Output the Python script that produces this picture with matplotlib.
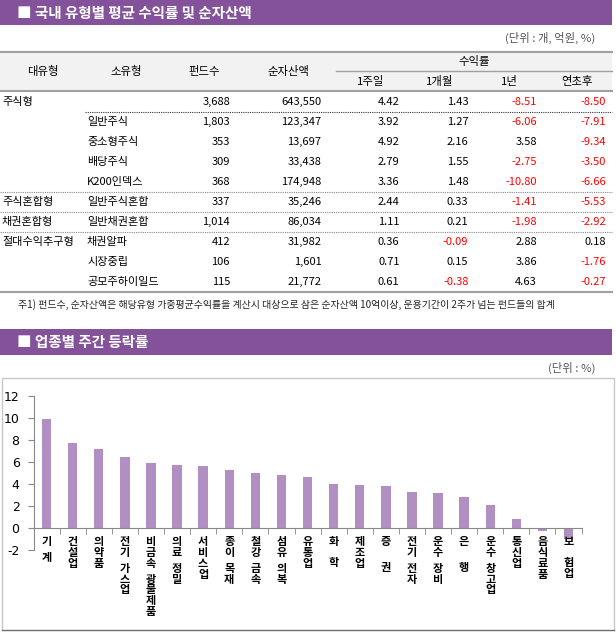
import matplotlib
matplotlib.use('Agg')
import matplotlib.pyplot as plt
from matplotlib.patches import Rectangle
import numpy as np

plt.rcParams['font.family'] = ['Noto Sans CJK KR', 'DejaVu Sans']
plt.rcParams['axes.unicode_minus'] = False

###############################################################################
# Data: fund table
major_types = ['주식형', '', '', '', '', '주식혼합형', '채권혼합형', '절대수익추구형', '', '']
sub_types = ['', '일반주식', '중소형주식', '배당주식', 'K200인덱스', '일반주식혼합',
             '일반채권혼합', '채권알파', '시장중립', '공모주하이일드']
fund_counts = [3688, 1803, 353, 309, 368, 337, 1014, 412, 106, 115]
net_assets = [643550, 123347, 13697, 33438, 174948, 35246, 86034, 31982, 1601, 21772]
ret_1w = [4.42, 3.92, 4.92, 2.79, 3.36, 2.44, 1.11, 0.36, 0.71, 0.61]
ret_1m = [1.43, 1.27, 2.16, 1.55, 1.48, 0.33, 0.21, -0.09, 0.15, -0.38]
ret_1y = [-8.51, -6.06, 3.58, -2.75, -10.80, -1.41, -1.98, 2.88, 3.86, 4.63]
ret_ytd = [-8.50, -7.91, -9.34, -3.50, -6.66, -5.53, -2.92, 0.18, -1.76, -0.27]

# Data: weekly sector change
sectors = ['기 계', '건설업', '의약품', '전기 가스업', '비금속 광물제품', '의료 정밀',
           '서비스업', '종이 목재', '철강 금속', '섬유 의복', '유통업', '화  학',
           '제조업', '증   권', '전기 전자', '운수 장비', '은   행', '운수 창고업',
           '통신업', '음식료품', '보  험업']
weekly_change = [9.9, 7.73, 7.18, 6.48, 5.9, 5.72, 5.63, 5.27, 5.0, 4.82, 4.64,
                 4.0, 3.97, 3.82, 3.33, 3.22, 2.88, 2.12, 0.85, -0.2, -1.0]
y_ticks = [-2, 0, 2, 4, 6, 8, 10, 12]

purple = '#83529a'
bar_color = '#b28fc3'
line_gray = '#a0a0a0'

###############################################################################
fig = plt.figure(figsize=(6.16, 6.33), dpi=100)
bg = fig.add_axes([0, 0, 1, 1])
bg.set_xlim(0, 616)
bg.set_ylim(633, 0)
bg.axis('off')

# Title bars
bg.add_patch(Rectangle((0, 0), 612, 25, color=purple, lw=0))
bg.text(17, 12.5, '■ 국내 유형별 평균 수익률 및 순자산액', color='white', fontsize=10.5,
        fontweight='bold', va='center', ha='left')
bg.text(595, 38, '(단위 : 개, 억원, %)', color='#555555', fontsize=8.2, va='center', ha='right')

bg.add_patch(Rectangle((0, 329), 612, 26, color=purple, lw=0))
bg.text(17, 342, '■ 업종별 주간 등락률', color='white', fontsize=10.5,
        fontweight='bold', va='center', ha='left')
bg.text(595, 368, '(단위 : %)', color='#555555', fontsize=8.2, va='center', ha='right')

# Table header
bg.add_patch(Rectangle((0, 52), 612, 39, color='#f2f2f2', lw=0))
bg.plot([0, 612], [52, 52], color=line_gray, lw=1.5)
bg.plot([336, 612], [71, 71], color=line_gray, lw=1)
bg.plot([0, 612], [91, 91], color=line_gray, lw=1.5)
hdr_fs = 8.2
for x, t in [(42.5, '대유형'), (126.5, '소유형'), (204, '펀드수'), (288, '순자산액')]:
    bg.text(x, 71, t, fontsize=hdr_fs, ha='center', va='center')
bg.text(474, 61, '수익률', fontsize=hdr_fs, ha='center', va='center')
for x, t in [(371, '1주일'), (440, '1개월'), (509, '1년'), (577, '연초후')]:
    bg.text(x, 81, t, fontsize=hdr_fs, ha='center', va='center')

# Table body
row_y0, row_h = 101.7, 20.07
col_right = [230, 321.4, 399.6, 468.4, 537, 606]
body_fs = 8
for i in range(len(sub_types)):
    y = row_y0 + i * row_h
    bg.text(2, y, major_types[i], fontsize=body_fs, ha='left', va='center')
    bg.text(87, y, sub_types[i], fontsize=body_fs, ha='left', va='center')
    bg.text(col_right[0], y, f'{fund_counts[i]:,}', fontsize=body_fs, ha='right', va='center')
    bg.text(col_right[1], y, f'{net_assets[i]:,}', fontsize=body_fs, ha='right', va='center')
    for c, series in enumerate([ret_1w, ret_1m, ret_1y, ret_ytd]):
        v = series[i]
        bg.text(col_right[c + 2], y, f'{v:.2f}', fontsize=body_fs, ha='right', va='center',
                color='#ff0000' if v < 0 else 'black')

bg.plot([84.5, 612], [111.5, 111.5], color='#333333', lw=0.8, ls=(0, (1, 1)))
for yy in [191.5, 211.5, 231.5]:
    bg.plot([0, 612], [yy, yy], color='#888888', lw=0.8, ls=(0, (1, 1)))
bg.plot([0, 612], [292, 292], color=line_gray, lw=1.5)
bg.text(17.7, 304.5, '주1) 펀드수, 순자산액은 해당유형 가중평균수익률을 계산시 대상으로 삼은 '
        '순자산액 10억이상, 운용기간이 2주가 넘는 펀드들의 합계',
        fontsize=7.15, ha='left', va='center', color='#222222')

# Chart frame
bg.plot([2, 2, 613.5, 613.5], [630, 377.5, 377.5, 630], color='#c8c8c8', lw=1)
bg.plot([2, 613.5], [630, 630], color='#707070', lw=1)

###############################################################################
# Bar chart
ax = fig.add_axes([33.5 / 616, 1 - 550.3 / 633, (581.6 - 33.5) / 616, (550.3 - 396.3) / 633])
ax.patch.set_alpha(0)
x = np.arange(len(sectors))
ax.bar(x, weekly_change, width=0.36, color=bar_color, zorder=2)
ax.set_xlim(-0.5, len(sectors) - 0.5)
ax.set_ylim(-2, 12)
ax.set_yticks(y_ticks)
ax.set_yticklabels([str(t) for t in y_ticks],
                   fontdict={'family': ['Liberation Sans Narrow', 'DejaVu Sans'], 'size': 9})
ax.spines['top'].set_visible(False)
ax.spines['right'].set_visible(False)
ax.spines['bottom'].set_position(('data', 0))
ax.spines['bottom'].set_color('#888888')
ax.spines['left'].set_color('#888888')
ax.tick_params(axis='y', direction='out', length=4, color='#888888', pad=6)
ax.set_xticks([])
ax.set_xticks(np.arange(-0.5, len(sectors)), minor=True)
ax.tick_params(axis='x', which='minor', direction='out', length=4, color='#888888')

# Vertical (stacked) category labels: work out the line spacing that gives
# a ~10.8 px step between characters
lab_fs = 8
renderer = fig.canvas.get_renderer()
def _heights(ls):
    t1 = fig.text(0, 0, '가', fontsize=lab_fs, fontweight='bold')
    t2 = fig.text(0, 0, '가\n가', fontsize=lab_fs, fontweight='bold', linespacing=ls)
    h1 = t1.get_window_extent(renderer).height
    h2 = t2.get_window_extent(renderer).height
    t1.remove()
    t2.remove()
    return h1, h2 - h1
line_h, s1 = _heights(1.0)
_, s2 = _heights(2.0)
char_step = 10.8
lab_ls = 1.0 + (char_step - s1) / (s2 - s1)

for i, name in enumerate(sectors):
    off = 13.4          # centre of the first character below the axis, px
    seg = ''
    for ch in name + ' ':
        if ch != ' ':
            seg += ch
            continue
        if seg:
            ax.annotate('\n'.join(seg), xy=(i, 0), xycoords='data',
                        xytext=(0, -(off - line_h / 2) * 0.72), textcoords='offset points',
                        ha='center', va='top', fontsize=lab_fs, fontweight='bold',
                        linespacing=lab_ls, annotation_clip=False)
            off += char_step * len(seg)
            seg = ''
        off += 5

fig.savefig('out.png', dpi=100)
